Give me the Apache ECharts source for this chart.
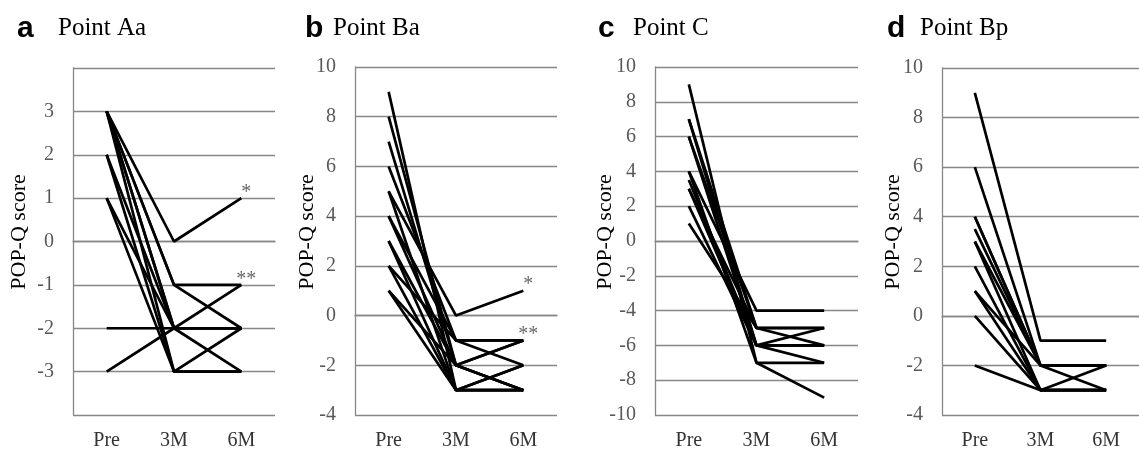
<!DOCTYPE html>
<html>
<head>
<meta charset="utf-8">
<script src="https://cdn.jsdelivr.net/npm/echarts@6/dist/echarts.min.js"></script>
<style>
html,body{margin:0;padding:0;background:#fff;overflow:hidden;width:1139px;height:451px;}
#chart{width:1139px;height:451px;display:block;}
</style>
</head>
<body>
<div id="chart"></div>
<script>
// ---- data ----
var categories = ['Pre', '3M', '6M'];

// each row: one patient [Pre, 3M, 6M]
var pointAa = [
  [3, 0, 1], [3, -1, -1], [3, -1, -2], [3, -2, -2], [3, -2, -3], [3, -3, -3],
  [2, -2, -2], [2, -3, -2], [1, -2, -2], [1, -3, -3], [-2, -2, -2], [-3, -2, -1]
];
var pointBa = [
  [9, -3, -3], [8, -2, -3], [7, -2, -1], [6, -1, -1], [5, 0, 1], [5, -3, -2],
  [4, -2, -1], [4, -1, -2], [3, -3, -3], [3, -2, -3], [2, -3, -2], [2, -1, -1],
  [1, -3, -3], [1, -2, -3]
];
var pointC = [
  [9, -7, -9], [7, -6, -7], [7, -5, -5], [6, -5, -6], [6, -6, -5], [4, -4, -4],
  [4, -7, -7], [3.5, -6, -6], [3, -5, -5], [3, -6, -6], [2, -6, -6], [1, -5, -5]
];
var pointBp = [
  [9, -1, -1], [6, -2, -2], [4, -2, -3], [4, -2, -2], [3.5, -2, -2], [3, -3, -3],
  [3, -2, -2], [2, -3, -2], [1, -3, -3], [1, -2, -2], [0, -3, -3], [-2, -3, -3]
];

var annotAa = [['6M', 1, '*'], ['6M', -1, '**']];
var annotBa = [['6M', 1, '*'], ['6M', -1, '**']];

var yTicksAa = { min: -4, max: 4, interval: 1 };
var yTicksBa = { min: -4, max: 10, interval: 2 };
var yTicksC  = { min: -10, max: 10, interval: 2 };
var yTicksBp = { min: -4, max: 10, interval: 2 };

var panelLetters = ['a', 'b', 'c', 'd'];
var panelTitles = ['Point Aa', 'Point Ba', 'Point C', 'Point Bp'];
var yAxisTitle = 'POP-Q score';

// ---- layout ----
var panels = [
  { data: pointAa, ticks: yTicksAa, annot: annotAa, hideEnds: true,
    grid: { left: 73, top: 68, width: 202, height: 349 }, nameX: 19,
    letterX: 17, titleX: 58 },
  { data: pointBa, ticks: yTicksBa, annot: annotBa, hideEnds: false,
    grid: { left: 355, top: 67, width: 202, height: 350 }, nameX: 307,
    letterX: 305, titleX: 333 },
  { data: pointC, ticks: yTicksC, annot: [], hideEnds: false,
    grid: { left: 655, top: 67, width: 203, height: 350 }, nameX: 605,
    letterX: 598, titleX: 633 },
  { data: pointBp, ticks: yTicksBp, annot: [], hideEnds: false,
    grid: { left: 942, top: 68, width: 201, height: 349 }, nameX: 893,
    letterX: 887, titleX: 920 }
];

var gray = '#878787';
var grids = [], xAxes = [], yAxes = [], series = [], graphics = [];

panels.forEach(function (p, i) {
  grids.push(p.grid);
  xAxes.push({
    type: 'category', gridIndex: i, data: categories, boundaryGap: true,
    axisLine: { lineStyle: { color: gray, width: 1.3 } },
    axisTick: { show: false },
    axisLabel: { color: '#333', fontFamily: 'Liberation Serif', fontSize: 20, margin: 16 }
  });
  (function (pp) {
    yAxes.push({
      type: 'value', gridIndex: i, min: pp.ticks.min, max: pp.ticks.max, interval: pp.ticks.interval,
      axisLine: { show: true, lineStyle: { color: gray, width: 1.3 } },
      axisTick: { show: false },
      splitLine: { show: true, lineStyle: { color: gray, width: 1.3 } },
      axisLabel: {
        color: '#595959', fontFamily: 'Liberation Serif', fontSize: 20, margin: 19,
        formatter: function (v) {
          if (pp.hideEnds && (v === pp.ticks.min || v === pp.ticks.max)) return '';
          return String(v);
        }
      }
    });
  })(p);
  p.data.forEach(function (row) {
    series.push({
      type: 'line', xAxisIndex: i, yAxisIndex: i, data: row,
      symbol: 'none', silent: true, z: 5,
      lineStyle: { color: '#000', width: 2.7 }
    });
  });
  if (p.annot.length) {
    series.push({
      type: 'scatter', xAxisIndex: i, yAxisIndex: i, symbolSize: 1, z: 6,
      itemStyle: { color: 'rgba(0,0,0,0)' },
      data: p.annot.map(function (a) { return { value: [a[0], a[1]], name: a[2] }; }),
      label: {
        show: true, position: 'top', distance: 0, offset: [5, 5],
        formatter: function (prm) { return prm.name; },
        color: '#404040', fontFamily: 'Liberation Serif', fontSize: 20
      }
    });
  }
  graphics.push({
    type: 'text', left: p.letterX, top: 14,
    style: { text: panelLetters[i], font: 'bold 30px "Liberation Sans"', fill: '#000' }
  });
  graphics.push({
    type: 'text', left: p.titleX, top: 16,
    style: { text: panelTitles[i], font: '25px "Liberation Serif"', fill: '#000' }
  });
  graphics.push({
    type: 'text', x: p.nameX, y: 232, rotation: Math.PI / 2,
    style: { text: yAxisTitle, font: '22px "Liberation Serif"', fill: '#000',
      textAlign: 'center', textVerticalAlign: 'middle' }
  });
});

var chart = echarts.init(document.getElementById('chart'));
chart.setOption({
  animation: false,
  backgroundColor: '#fff',
  grid: grids,
  xAxis: xAxes,
  yAxis: yAxes,
  series: series,
  graphic: graphics
});
</script>
</body>
</html>
